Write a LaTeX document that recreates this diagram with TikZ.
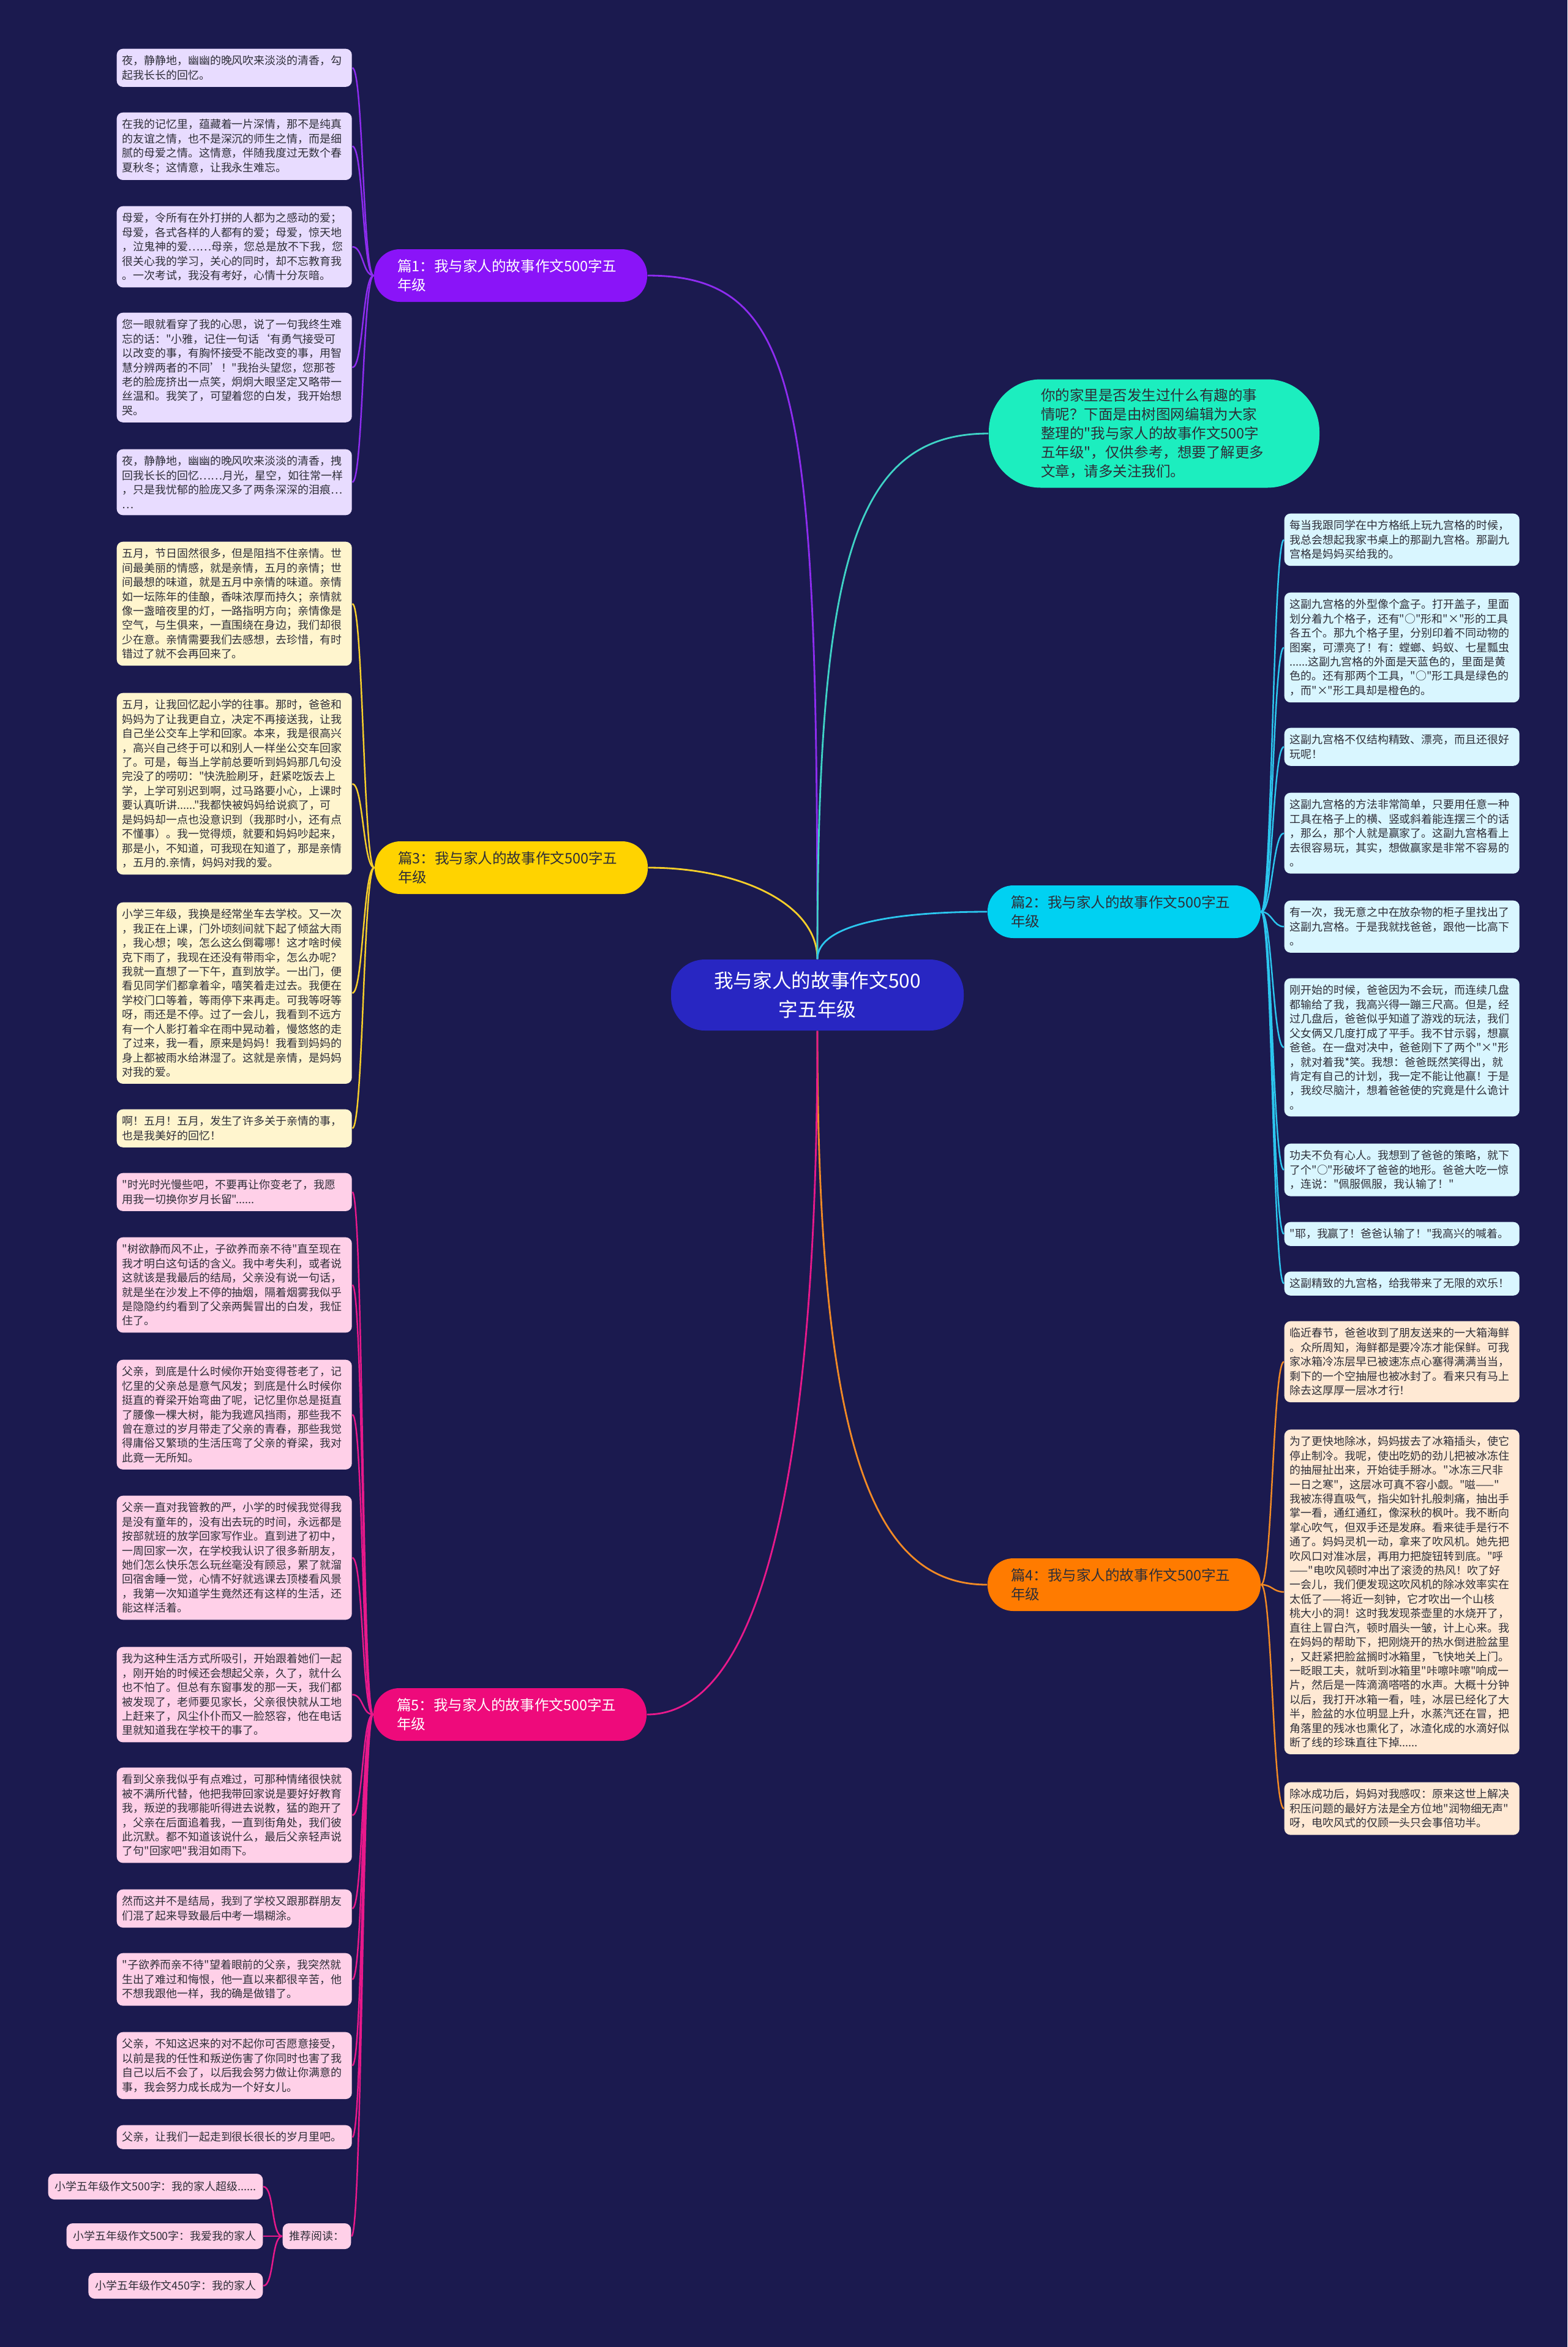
\documentclass[tikz,border=0pt]{standalone}
\usepackage{fontspec}
\newfontfamily\cjk{Noto Sans CJK SC}
\usepackage{xcolor}
\usepackage{tikz}
\definecolor{night}{HTML}{1B1A4F}
\definecolor{ink}{HTML}{2E2E38}
\definecolor{rootblue}{HTML}{2826C2}
\definecolor{violet}{HTML}{8A14F8}
\definecolor{violetline}{HTML}{8E2CF0}
\definecolor{violetpale}{HTML}{E8DCFF}
\definecolor{amber}{HTML}{FFD300}
\definecolor{amberline}{HTML}{F7CF2A}
\definecolor{amberpale}{HTML}{FFF5CE}
\definecolor{rose}{HTML}{EE0A7B}
\definecolor{roseline}{HTML}{E8198B}
\definecolor{rosepale}{HTML}{FFD0E8}
\definecolor{sky}{HTML}{00D1F2}
\definecolor{skyline}{HTML}{2CC6EE}
\definecolor{skypale}{HTML}{D9F6FF}
\definecolor{tangerine}{HTML}{FF7B00}
\definecolor{tangerineline}{HTML}{F28A25}
\definecolor{tangerinepale}{HTML}{FFE9D4}
\definecolor{mint}{HTML}{1CEEBF}
\definecolor{mintline}{HTML}{3FD3C6}
\tikzset{
  card/.style={rounded corners=1mm, inner xsep=.9mm, inner ysep=1.1mm, text width=3.66cm,
    align=left, anchor=north west, text=ink, font=\cjk\fontsize{5.1pt}{6.66pt}\selectfont},
  chip/.style={rounded corners=1mm, inner xsep=1.1mm, inner ysep=1mm, minimum height=4.2mm,
    anchor=east, text=ink, font=\cjk\fontsize{5.1pt}{6.66pt}\selectfont},
  pill/.style={rounded corners=4.2mm, inner xsep=3.8mm, inner ysep=1mm, text width=3.7cm,
    minimum height=8.6mm, align=left, font=\cjk\fontsize{6.7pt}{8.8pt}\selectfont},
  flow/.style={line width=.8pt},
  twig/.style={line width=.7pt}
}

\begin{document}
\begin{tikzpicture}[x=1cm,y=1cm]
  \fill[night] (0,0) rectangle (25.6,-38.33);

  \node[fill=rootblue,rounded corners=5.5mm,minimum width=4.78cm,minimum height=1.16cm,
    align=center,text=white,font=\cjk\fontsize{9pt}{13.3pt}\selectfont] (root) at (13.35,-16.25)
    {我与家人的故事作文500\\字五年级};

  \node[fill=mint,rounded corners=8.5mm,text width=3.7cm,inner xsep=8.5mm,minimum height=1.77cm,
    align=left,text=ink,font=\cjk\fontsize{6.7pt}{8.8pt}\selectfont] (intro) at (18.85,-7.08)
    {你的家里是否发生过什么有趣的事\\情呢？下面是由树图网编辑为大家\\整理的"我与家人的故事作文500字\\五年级"，仅供参考，想要了解更多\\文章，请多关注我们。};

  \node[pill,fill=violet,text=white] (p1) at (8.34,-4.50) {篇1：我与家人的故事作文500字五\\年级};
  \node[pill,fill=amber,text=ink] (p3) at (8.35,-14.17) {篇3：我与家人的故事作文500字五\\年级};
  \node[pill,fill=rose,text=white] (p5) at (8.33,-28.00) {篇5：我与家人的故事作文500字五\\年级};
  \node[pill,fill=sky,text=ink] (p2) at (18.36,-14.89) {篇2：我与家人的故事作文500字五\\年级};
  \node[pill,fill=tangerine,text=ink] (p4) at (18.36,-25.88) {篇4：我与家人的故事作文500字五\\年级};

  \draw[flow,violetline] (root.north) .. controls +(0,9.2) and +(2.5,0) .. (p1.east);
  \draw[flow,amberline] (root.north) .. controls +(0,0.9) and +(1.5,0) .. (p3.east);
  \draw[flow,mintline] (root.north) .. controls +(0,6.5) and +(-2.2,0) .. (intro.west);
  \draw[flow,skyline] (root.north) .. controls +(0,0.55) and +(-1.6,0) .. (p2.west);
  \draw[flow,tangerineline] (root.south) .. controls +(0,-7) and +(-1.8,0) .. (p4.west);
  \draw[flow,roseline] (root.south) .. controls +(0,-7.5) and +(1.8,0) .. (p5.east);

  % 篇1
  \node[card,fill=violetpale] (a1) at (1.90,-0.79) {夜，静静地，幽幽的晚风吹来淡淡的清香，勾\\起我长长的回忆。};
  \node[card,fill=violetpale] (a2) at (1.90,-1.83) {在我的记忆里，蕴藏着一片深情，那不是纯真\\的友谊之情，也不是深沉的师生之情，而是细\\腻的母爱之情。这情意，伴随我度过无数个春\\夏秋冬；这情意，让我永生难忘。};
  \node[card,fill=violetpale] (a3) at (1.90,-3.36) {母爱，令所有在外打拼的人都为之感动的爱；\\母爱，各式各样的人都有的爱；母爱，惊天地\\，泣鬼神的爱……母亲，您总是放不下我，您\\很关心我的学习，关心的同时，却不忘教育我\\。一次考试，我没有考好，心情十分灰暗。};
  \node[card,fill=violetpale] (a4) at (1.90,-5.10) {您一眼就看穿了我的心思，说了一句我终生难\\忘的话："小雅，记住一句话‘有勇气接受可\\以改变的事，有胸怀接受不能改变的事，用智\\慧分辨两者的不同’！"我抬头望您，您那苍\\老的脸庞挤出一点笑，炯炯大眼坚定又略带一\\丝温和。我笑了，可望着您的白发，我开始想\\哭。};
  \node[card,fill=violetpale] (a5) at (1.90,-7.33) {夜，静静地，幽幽的晚风吹来淡淡的清香，拽\\回我长长的回忆……月光，星空，如往常一样\\，只是我忧郁的脸庞又多了两条深深的泪痕…\\…};
  \draw[twig,violetline] (p1.west) .. controls +(-0.18,0) and +(0.18,0) .. (a1.east);
  \draw[twig,violetline] (p1.west) .. controls +(-0.18,0) and +(0.18,0) .. (a2.east);
  \draw[twig,violetline] (p1.west) .. controls +(-0.18,0) and +(0.18,0) .. (a3.east);
  \draw[twig,violetline] (p1.west) .. controls +(-0.18,0) and +(0.18,0) .. (a4.east);
  \draw[twig,violetline] (p1.west) .. controls +(-0.18,0) and +(0.18,0) .. (a5.east);

  % 篇3
  \node[card,fill=amberpale] (c1) at (1.90,-8.84) {五月，节日固然很多，但是阻挡不住亲情。世\\间最美丽的情感，就是亲情，五月的亲情；世\\间最想的味道，就是五月中亲情的味道。亲情\\如一坛陈年的佳酿，香味浓厚而持久；亲情就\\像一盏暗夜里的灯，一路指明方向；亲情像是\\空气，与生俱来，一直围绕在身边，我们却很\\少在意。亲情需要我们去感想，去珍惜，有时\\错过了就不会再回来了。};
  \node[card,fill=amberpale] (c2) at (1.90,-11.31) {五月，让我回忆起小学的往事。那时，爸爸和\\妈妈为了让我更自立，决定不再接送我，让我\\自己坐公交车上学和回家。本来，我是很高兴\\，高兴自己终于可以和别人一样坐公交车回家\\了。可是，每当上学前总要听到妈妈那几句没\\完没了的唠叨："快洗脸刷牙，赶紧吃饭去上\\学，上学可别迟到啊，过马路要小心，上课时\\要认真听讲......"我都快被妈妈给说疯了，可\\是妈妈却一点也没意识到（我那时小，还有点\\不懂事）。我一觉得烦，就要和妈妈吵起来，\\那是小，不知道，可我现在知道了，那是亲情\\，五月的.亲情，妈妈对我的爱。};
  \node[card,fill=amberpale] (c3) at (1.90,-14.73) {小学三年级，我换是经常坐车去学校。又一次\\，我正在上课，门外顷刻间就下起了倾盆大雨\\，我心想；唉，怎么这么倒霉哪！这才啥时候\\克下雨了，我现在还没有带雨伞，怎么办呢？\\我就一直想了一下午，直到放学。一出门，便\\看见同学们都拿着伞，嘻笑着走过去。我便在\\学校门口等着，等雨停下来再走。可我等呀等\\呀，雨还是不停。过了一会儿，我看到不远方\\有一个人影打着伞在雨中晃动着，慢悠悠的走\\了过来，我一看，原来是妈妈！我看到妈妈的\\身上都被雨水给淋湿了。这就是亲情，是妈妈\\对我的爱。};
  \node[card,fill=amberpale] (c4) at (1.90,-18.11) {啊！五月！五月，发生了许多关于亲情的事，\\也是我美好的回忆！};
  \draw[twig,amberline] (p3.west) .. controls +(-0.18,0) and +(0.18,0) .. (c1.east);
  \draw[twig,amberline] (p3.west) .. controls +(-0.18,0) and +(0.18,0) .. (c2.east);
  \draw[twig,amberline] (p3.west) .. controls +(-0.18,0) and +(0.18,0) .. (c3.east);
  \draw[twig,amberline] (p3.west) .. controls +(-0.18,0) and +(0.18,0) .. (c4.east);

  % 篇5
  \node[card,fill=rosepale] (e1) at (1.90,-19.15) {"时光时光慢些吧，不要再让你变老了，我愿\\用我一切换你岁月长留"......};
  \node[card,fill=rosepale] (e2) at (1.90,-20.20) {"树欲静而风不止，子欲养而亲不待"直至现在\\我才明白这句话的含义。我中考失利，或者说\\这就该是我最后的结局，父亲没有说一句话，\\就是坐在沙发上不停的抽烟，隔着烟雾我似乎\\是隐隐约约看到了父亲两鬓冒出的白发，我怔\\住了。};
  \node[card,fill=rosepale] (e3) at (1.90,-22.20) {父亲，到底是什么时候你开始变得苍老了，记\\忆里的父亲总是意气风发；到底是什么时候你\\挺直的脊梁开始弯曲了呢，记忆里你总是挺直\\了腰像一棵大树，能为我遮风挡雨，那些我不\\曾在意过的岁月带走了父亲的青春，那些我觉\\得庸俗又繁琐的生活压弯了父亲的脊梁，我对\\此竟一无所知。};
  \node[card,fill=rosepale] (e4) at (1.90,-24.42) {父亲一直对我管教的严，小学的时候我觉得我\\是没有童年的，没有出去玩的时间，永远都是\\按部就班的放学回家写作业。直到进了初中，\\一周回家一次，在学校我认识了很多新朋友，\\她们怎么快乐怎么玩丝毫没有顾忌，累了就溜\\回宿舍睡一觉，心情不好就逃课去顶楼看风景\\，我第一次知道学生竟然还有这样的生活，还\\能这样活着。};
  \node[card,fill=rosepale] (e5) at (1.90,-26.89) {我为这种生活方式所吸引，开始跟着她们一起\\，刚开始的时候还会想起父亲，久了，就什么\\也不怕了。但总有东窗事发的那一天，我们都\\被发现了，老师要见家长，父亲很快就从工地\\上赶来了，风尘仆仆而又一脸怒容，他在电话\\里就知道我在学校干的事了。};
  \node[card,fill=rosepale] (e6) at (1.90,-28.86) {看到父亲我似乎有点难过，可那种情绪很快就\\被不满所代替，他把我带回家说是要好好教育\\我，叛逆的我哪能听得进去说教，猛的跑开了\\，父亲在后面追着我，一直到街角处，我们彼\\此沉默。都不知道该说什么，最后父亲轻声说\\了句"回家吧"我泪如雨下。};
  \node[card,fill=rosepale] (e7) at (1.90,-30.85) {然而这并不是结局，我到了学校又跟那群朋友\\们混了起来导致最后中考一塌糊涂。};
  \node[card,fill=rosepale] (e8) at (1.90,-31.89) {"子欲养而亲不待"望着眼前的父亲，我突然就\\生出了难过和悔恨，他一直以来都很辛苦，他\\不想我跟他一样，我的确是做错了。};
  \node[card,fill=rosepale] (e9) at (1.90,-33.18) {父亲，不知这迟来的对不起你可否愿意接受，\\以前是我的任性和叛逆伤害了你同时也害了我\\自己以后不会了，以后我会努力做让你满意的\\事，我会努力成长成为一个好女儿。};
  \node[card,fill=rosepale] (e10) at (1.90,-34.70) {父亲，让我们一起走到很长很长的岁月里吧。};
  \node[chip,fill=rosepale] (er) at (5.74,-36.52) {推荐阅读：};
  \node[chip,fill=rosepale] (r1) at (4.30,-35.71) {小学五年级作文500字：我的家人超级......};
  \node[chip,fill=rosepale] (r2) at (4.30,-36.52) {小学五年级作文500字：我爱我的家人};
  \node[chip,fill=rosepale] (r3) at (4.30,-37.33) {小学五年级作文450字：我的家人};
  \draw[twig,roseline] (p5.west) .. controls +(-0.18,0) and +(0.18,0) .. (e1.east);
  \draw[twig,roseline] (p5.west) .. controls +(-0.18,0) and +(0.18,0) .. (e2.east);
  \draw[twig,roseline] (p5.west) .. controls +(-0.18,0) and +(0.18,0) .. (e3.east);
  \draw[twig,roseline] (p5.west) .. controls +(-0.18,0) and +(0.18,0) .. (e4.east);
  \draw[twig,roseline] (p5.west) .. controls +(-0.18,0) and +(0.18,0) .. (e5.east);
  \draw[twig,roseline] (p5.west) .. controls +(-0.18,0) and +(0.18,0) .. (e6.east);
  \draw[twig,roseline] (p5.west) .. controls +(-0.18,0) and +(0.18,0) .. (e7.east);
  \draw[twig,roseline] (p5.west) .. controls +(-0.18,0) and +(0.18,0) .. (e8.east);
  \draw[twig,roseline] (p5.west) .. controls +(-0.18,0) and +(0.18,0) .. (e9.east);
  \draw[twig,roseline] (p5.west) .. controls +(-0.18,0) and +(0.18,0) .. (e10.east);
  \draw[twig,roseline] (p5.west) .. controls +(-0.18,0) and +(0.18,0) .. (er.east);
  \draw[twig,roseline] (er.west) .. controls +(-0.18,0) and +(0.18,0) .. (r1.east);
  \draw[twig,roseline] (er.west) -- (r2.east);
  \draw[twig,roseline] (er.west) .. controls +(-0.18,0) and +(0.18,0) .. (r3.east);

  % 篇2
  \node[card,fill=skypale] (b1) at (20.97,-8.38) {每当我跟同学在中方格纸上玩九宫格的时候，\\我总会想起我家书桌上的那副九宫格。那副九\\宫格是妈妈买给我的。};
  \node[card,fill=skypale] (b2) at (20.97,-9.67) {这副九宫格的外型像个盒子。打开盖子，里面\\划分着九个格子，还有"○"形和"×"形的工具\\各五个。那九个格子里，分别印着不同动物的\\图案，可漂亮了！有：螳螂、蚂蚁、七星瓢虫\\......这副九宫格的外面是天蓝色的，里面是黄\\色的。还有那两个工具，"○"形工具是绿色的\\，而"×"形工具却是橙色的。};
  \node[card,fill=skypale] (b3) at (20.97,-11.88) {这副九宫格不仅结构精致、漂亮，而且还很好\\玩呢！};
  \node[card,fill=skypale] (b4) at (20.97,-12.94) {这副九宫格的方法非常简单，只要用任意一种\\工具在格子上的横、竖或斜着能连摆三个的话\\，那么，那个人就是赢家了。这副九宫格看上\\去很容易玩，其实，想做赢家是非常不容易的\\。};
  \node[card,fill=skypale] (b5) at (20.97,-14.70) {有一次，我无意之中在放杂物的柜子里找出了\\这副九宫格。于是我就找爸爸，跟他一比高下\\。};
  \node[card,fill=skypale] (b6) at (20.97,-15.97) {刚开始的时候，爸爸因为不会玩，而连续几盘\\都输给了我，我高兴得一蹦三尺高。但是，经\\过几盘后，爸爸似乎知道了游戏的玩法，我们\\父女俩又几度打成了平手。我不甘示弱，想赢\\爸爸。在一盘对决中，爸爸刚下了两个"×"形\\，就对着我*笑。我想：爸爸既然笑得出，就\\肯定有自己的计划，我一定不能让他赢！于是\\，我绞尽脑汁，想着爸爸使的究竟是什么诡计\\。};
  \node[card,fill=skypale] (b7) at (20.97,-18.67) {功夫不负有心人。我想到了爸爸的策略，就下\\了个"○"形破坏了爸爸的地形。爸爸大吃一惊\\，连说："佩服佩服，我认输了！"};
  \node[card,fill=skypale] (b8) at (20.97,-19.95) {"耶，我赢了！爸爸认输了！"我高兴的喊着。};
  \node[card,fill=skypale] (b9) at (20.97,-20.76) {这副精致的九宫格，给我带来了无限的欢乐！};
  \draw[twig,skyline] (p2.east) .. controls +(0.18,0) and +(-0.18,0) .. (b1.west);
  \draw[twig,skyline] (p2.east) .. controls +(0.18,0) and +(-0.18,0) .. (b2.west);
  \draw[twig,skyline] (p2.east) .. controls +(0.18,0) and +(-0.18,0) .. (b3.west);
  \draw[twig,skyline] (p2.east) .. controls +(0.18,0) and +(-0.18,0) .. (b4.west);
  \draw[twig,skyline] (p2.east) .. controls +(0.18,0) and +(-0.18,0) .. (b5.west);
  \draw[twig,skyline] (p2.east) .. controls +(0.18,0) and +(-0.18,0) .. (b6.west);
  \draw[twig,skyline] (p2.east) .. controls +(0.18,0) and +(-0.18,0) .. (b7.west);
  \draw[twig,skyline] (p2.east) .. controls +(0.18,0) and +(-0.18,0) .. (b8.west);
  \draw[twig,skyline] (p2.east) .. controls +(0.18,0) and +(-0.18,0) .. (b9.west);

  % 篇4
  \node[card,fill=tangerinepale] (d1) at (20.97,-21.57) {临近春节，爸爸收到了朋友送来的一大箱海鲜\\。众所周知，海鲜都是要冷冻才能保鲜。可我\\家冰箱冷冻层早已被速冻点心塞得满满当当，\\剩下的一个空抽屉也被冰封了。看来只有马上\\除去这厚厚一层冰才行！};
  \node[card,fill=tangerinepale] (d2) at (20.97,-23.34) {为了更快地除冰，妈妈拔去了冰箱插头，使它\\停止制冷。我呢，使出吃奶的劲儿把被冰冻住\\的抽屉扯出来，开始徒手掰冰。"冰冻三尺非\\一日之寒"，这层冰可真不容小觑。"嗞——"\\我被冻得直吸气，指尖如针扎般刺痛，抽出手\\掌一看，通红通红，像深秋的枫叶。我不断向\\掌心吹气，但双手还是发麻。看来徒手是行不\\通了。妈妈灵机一动，拿来了吹风机。她先把\\吹风口对准冰层，再用力把旋钮转到底。"呼\\——"电吹风顿时冲出了滚烫的热风！吹了好\\一会儿，我们便发现这吹风机的除冰效率实在\\太低了——将近一刻钟，它才吹出一个山核\\桃大小的洞！这时我发现茶壶里的水烧开了，\\直往上冒白汽，顿时眉头一皱，计上心来。我\\在妈妈的帮助下，把刚烧开的热水倒进脸盆里\\，又赶紧把脸盆搁时冰箱里，飞快地关上门。\\一眨眼工夫，就听到冰箱里"咔嚓咔嚓"响成一\\片，然后是一阵滴滴嗒嗒的水声。大概十分钟\\以后，我打开冰箱一看，哇，冰层已经化了大\\半，脸盆的水位明显上升，水蒸汽还在冒，把\\角落里的残冰也熏化了，冰渣化成的水滴好似\\断了线的珍珠直往下掉......};
  \node[card,fill=tangerinepale] (d3) at (20.97,-29.10) {除冰成功后，妈妈对我感叹：原来这世上解决\\积压问题的最好方法是全方位地"润物细无声"\\呀，电吹风式的仅顾一头只会事倍功半。};
  \draw[twig,tangerineline] (p4.east) .. controls +(0.18,0) and +(-0.18,0) .. (d1.west);
  \draw[twig,tangerineline] (p4.east) .. controls +(0.18,0) and +(-0.18,0) .. (d2.west);
  \draw[twig,tangerineline] (p4.east) .. controls +(0.18,0) and +(-0.18,0) .. (d3.west);
\end{tikzpicture}
\end{document}
